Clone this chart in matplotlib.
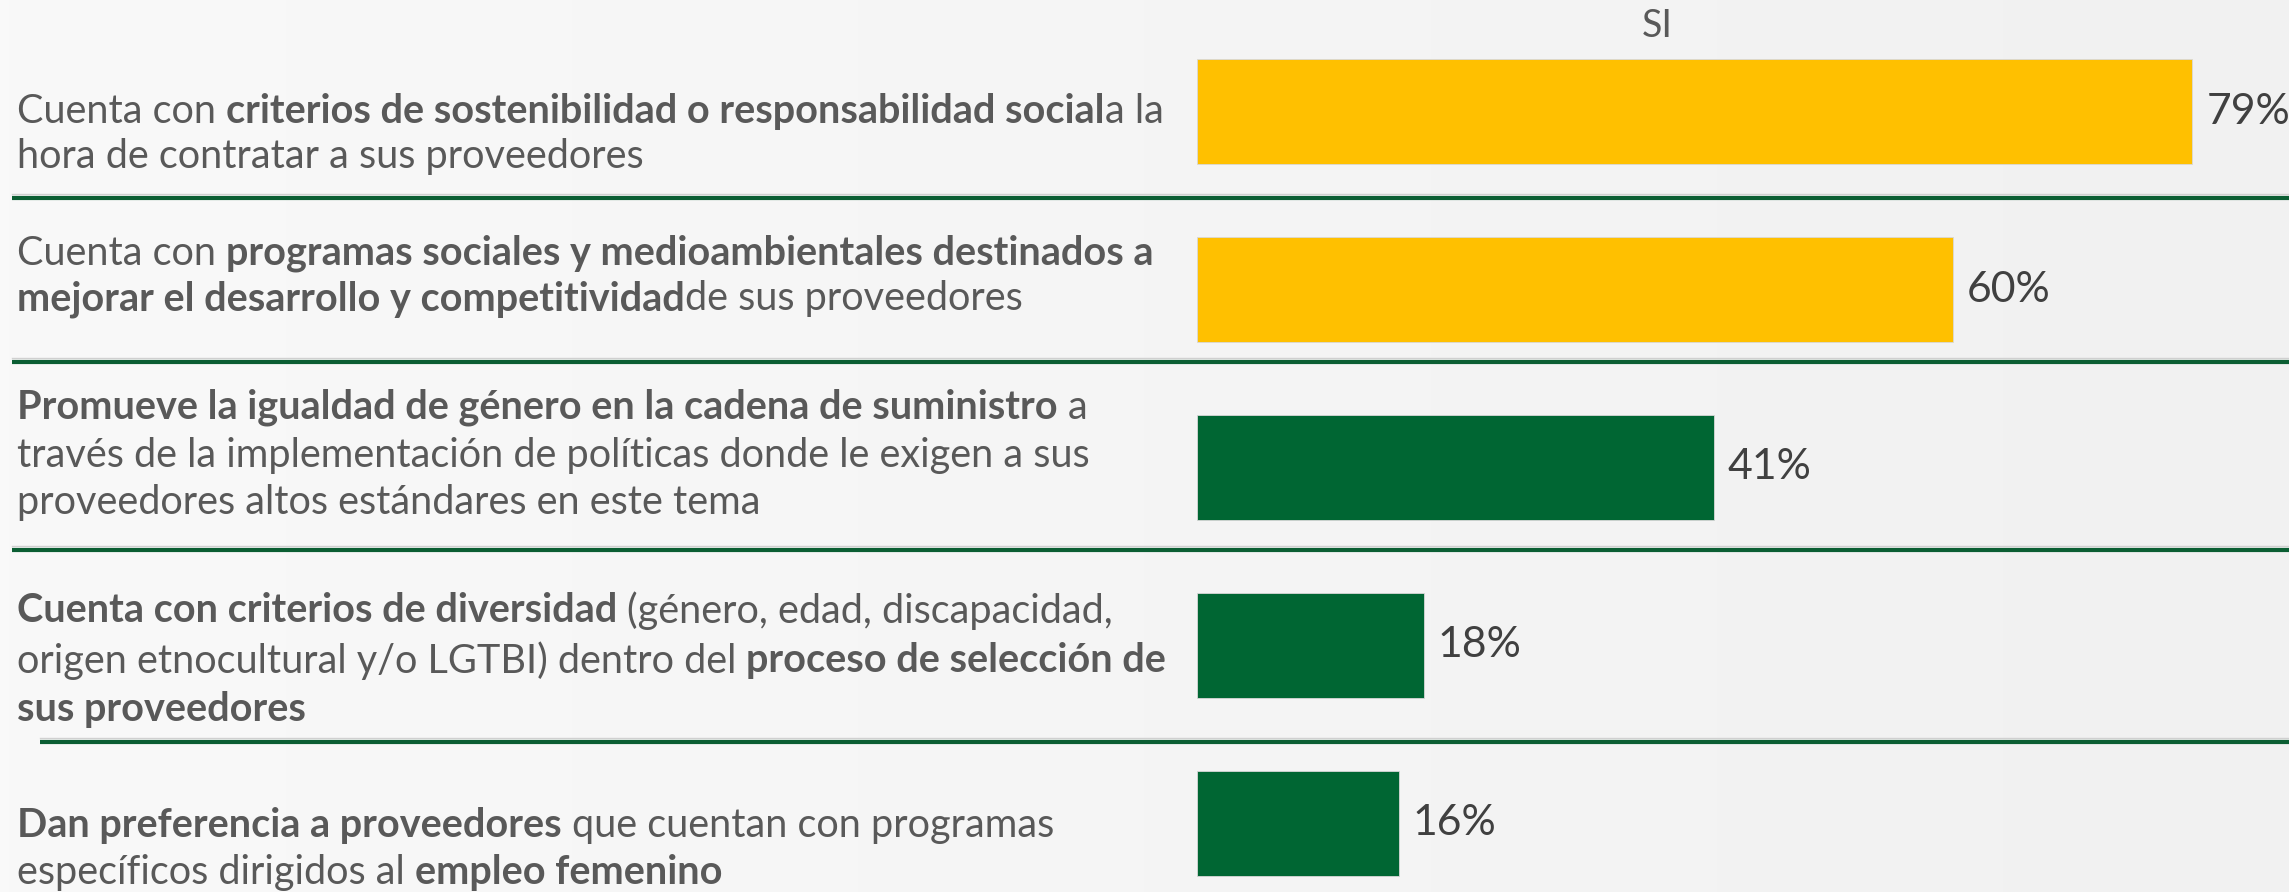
import numpy as np
import matplotlib.pyplot as plt
from matplotlib import font_manager
from matplotlib.colors import LinearSegmentedColormap

# Datos
values = [79, 60, 41, 18, 16]
value_labels = ["79%", "60%", "41%", "18%", "16%"]
bar_colors = ["#FFC000", "#FFC000", "#006633", "#006633", "#006633"]
header = "SI"

# Cada etiqueta: lista de líneas, cada línea lista de (texto, negrita)
label_lines = [
    [
        [("Cuenta con ", False), ("criterios de sostenibilidad o responsabilidad social", True), ("a la", False)],
        [("hora de contratar a sus proveedores", False)],
    ],
    [
        [("Cuenta con ", False), ("programas sociales y medioambientales destinados a", True)],
        [("mejorar el desarrollo y competitividad", True), ("de sus proveedores", False)],
    ],
    [
        [("Promueve la igualdad de género en la cadena de suministro", True), (" a", False)],
        [("través de la implementación de políticas donde le exigen a sus", False)],
        [("proveedores altos estándares en este tema", False)],
    ],
    [
        [("Cuenta con criterios de diversidad", True), (" (género, edad, discapacidad,", False)],
        [("origen etnocultural y/o LGTBI) dentro del ", False), ("proceso de selección de", True)],
        [("sus proveedores", True)],
    ],
    [
        [("Dan preferencia a proveedores", True), (" que cuentan con programas", False)],
        [("específicos dirigidos al ", False), ("empleo femenino", True)],
    ],
]

# Layout (pixeles)
W, H, DPI = 2289, 892, 100
line_y = [[108, 153], [250, 295], [404, 452, 499], [607, 657, 706], [822, 869]]
sep_y = [198, 362, 550, 742]
sep_x0 = [12, 12, 12, 40]
text_x = 17
bar_x0 = 1197
px_per_pct = 12.6
row0, pitch, bar_h = 112, 177.75, 105

names = {f.name for f in font_manager.fontManager.ttflist}
family = "Lato" if "Lato" in names else "DejaVu Sans"
text_color = "#595959"

fig = plt.figure(figsize=(W / DPI, H / DPI), dpi=DPI)
fig.patch.set_facecolor("#F6F6F6")

bg = fig.add_axes([0, 0, 1, 1])
bg.set_xlim(0, W)
bg.set_ylim(H, 0)
bg.axis("off")
bg.imshow(np.linspace(0, 1, 256)[None, :], extent=[0, W, H, 0], aspect="auto",
          cmap=LinearSegmentedColormap.from_list("bg", ["#F9F9F9", "#F1F1F1"]), zorder=0)

renderer = fig.canvas.get_renderer()


def width(s, bold, size):
    t = bg.text(0, 0, s, fontsize=size, family=family, fontweight="bold" if bold else "normal")
    w = t.get_window_extent(renderer).width
    t.remove()
    return w


# ajustar el tamaño de letra al ancho de la línea de referencia
base = 28
ref = sum(width(s.strip(), b, base) for s, b in label_lines[1][0]) + width("a a", False, base) - width("aa", False, base)
fs = base * 1136 / ref
space_w = width("a a", False, fs) - width("aa", False, fs)

for block, ys in zip(label_lines, line_y):
    for runs, y in zip(block, ys):
        x = text_x
        for s, b in runs:
            x += (len(s) - len(s.lstrip())) * space_w
            core = s.strip()
            bg.text(x, y, core, fontsize=fs, family=family, color=text_color,
                    fontweight="bold" if b else "normal", va="center_baseline", ha="left")
            x += width(core, b, fs)
            x += (len(s) - len(s.rstrip())) * space_w

for y, x0 in zip(sep_y, sep_x0):
    bg.plot([x0, W], [y - 4, y - 4], color="#D0D0D0", lw=1)
    bg.plot([x0, W], [y, y], color="#0B5E33", lw=3, solid_capstyle="butt")

bg.text(1657, 26, header, fontsize=fs * 0.95, family=family, color=text_color, ha="center", va="center")

# Barras
ax = fig.add_axes([bar_x0 / W, 0, 1 - bar_x0 / W, 1])
ax.patch.set_alpha(0)
ax.axis("off")
ypos = np.arange(len(values))
ax.barh(ypos, values, height=bar_h / pitch, color=bar_colors, edgecolor="#D8D8D8", linewidth=0.6)
ax.set_xlim(0, (W - bar_x0) / px_per_pct)
ax.set_ylim((H - row0) / pitch, -row0 / pitch)
for yy, v, lab in zip(ypos, values, value_labels):
    ax.text(v + 14 / px_per_pct, yy, lab, fontsize=fs * 1.08, family=family,
            color="#404040", va="center", ha="left")

fig.savefig("out.png", dpi=DPI, facecolor=fig.get_facecolor())
